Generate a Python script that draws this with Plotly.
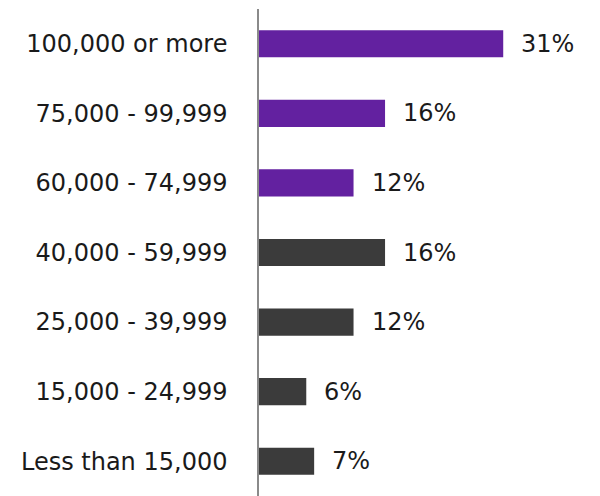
import plotly.graph_objects as go

categories = ["100,000 or more", "75,000 - 99,999", "60,000 - 74,999",
              "40,000 - 59,999", "25,000 - 39,999", "15,000 - 24,999",
              "Less than 15,000"]
values = [31, 16, 12, 16, 12, 6, 7]
labels = ["31%", "16%", "12%", "16%", "12%", "6%", "7%"]
PURPLE = "#6321A0"
DARK = "#3B3B3B"
colors = [PURPLE] * 3 + [DARK] * 4

fig = go.Figure(go.Bar(
    x=values, y=categories, orientation="h",
    marker=dict(color=colors, line=dict(width=0)),
    width=0.39, hoverinfo="skip",
))

for c, v, t in zip(categories, values, labels):
    fig.add_annotation(x=v, y=c, text=t, showarrow=False, xanchor="left",
                       xshift=16, font=dict(family="DejaVu Sans", size=24, color="#1a1a1a"))

fig.update_layout(
    width=600, height=496,
    margin=dict(l=251, r=0, t=1, b=8, autoexpand=False),
    paper_bgcolor="white", plot_bgcolor="white",
    showlegend=False,
    font=dict(family="DejaVu Sans", size=24, color="#1a1a1a"),
)
fig.update_xaxes(range=[0, 44.3], visible=False, showgrid=False, zeroline=False,
                 automargin=False)
fig.update_yaxes(
    categoryorder="array", categoryarray=categories, autorange="reversed",
    showline=True, linecolor="#8a8a8a", linewidth=1.5,
    showgrid=False, zeroline=False, automargin=False,
    ticks="outside", ticklen=25, tickcolor="rgba(0,0,0,0)",
    tickfont=dict(family="DejaVu Sans", size=24, color="#1a1a1a"),
)

fig.write_html("out.html")
